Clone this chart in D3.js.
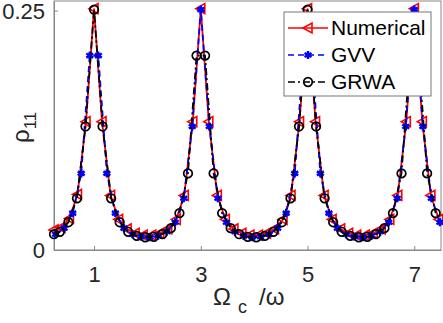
<!doctype html>
<html lang="en">
<head>
  <meta charset="utf-8">
  <title>rho11 vs Omega_c / omega</title>
  <style type="text/css">
    body{
      margin:0;
      background:#fff;
    }
    text{
      font-family: "Liberation Sans", Arial, Helvetica, sans-serif;
      fill:#262626;
    }
    .tick text{
      font-size:22px;
    }
    .domain{
      stroke:#888;
    }
    .tick line{
      stroke:#888;
    }
  </style>
</head>
<body>
  <div id="vis"></div>
  <script src="https://cdn.jsdelivr.net/npm/d3@7"></script>
  <script type="text/javascript">

    var width = 443,
      height = 323;

    // values
    var xTicks = [1, 3, 5, 7],
      yTicks = [0, 0.25],
      yTickLabels = ['0', '0.25'];

    var numX = [0.25,0.38,0.54,0.69,0.85,1.00,1.15,1.31,1.46,1.62,1.77,1.92,2.08,2.23,2.38,2.54,2.69,2.85,3.00,3.15,3.31,3.46,3.62,3.77,3.92,4.08,4.23,4.38,4.54,4.69,4.85,5.00,5.15,5.31,5.46,5.62,5.77,5.92,6.08,6.23,6.38,6.54,6.69,6.85,7.00,7.15,7.31,7.46];
    var numY = [0.021,0.0235,0.033,0.058,0.134,0.252,0.134,0.057,0.032,0.022,0.0175,0.0155,0.0155,0.0175,0.022,0.032,0.057,0.134,0.252,0.134,0.057,0.032,0.022,0.0175,0.0155,0.0155,0.0175,0.022,0.032,0.057,0.134,0.252,0.134,0.057,0.032,0.022,0.0175,0.0155,0.0155,0.0175,0.022,0.032,0.057,0.134,0.252,0.134,0.057,0.032];

    var gvvX = [0.28,0.44,0.60,0.76,0.92,1.08,1.24,1.40,1.56,1.72,1.88,2.04,2.20,2.36,2.52,2.68,2.84,3.00,3.16,3.32,3.48,3.64,3.80,3.96,4.12,4.28,4.44,4.60,4.76,4.92,5.08,5.24,5.40,5.56,5.72,5.88,6.04,6.20,6.36,6.52,6.68,6.84,7.00,7.16,7.32,7.48];
    var gvvY = [0.0165,0.0228,0.0385,0.080,0.203,0.203,0.080,0.0385,0.0228,0.0165,0.0138,0.0133,0.0148,0.019,0.029,0.054,0.129,0.251,0.129,0.054,0.029,0.019,0.0148,0.0133,0.0138,0.0165,0.0228,0.0385,0.080,0.203,0.203,0.080,0.0385,0.0228,0.0165,0.0138,0.0133,0.0148,0.019,0.029,0.054,0.129,0.251,0.129,0.054,0.029];

    var grwaX = [0.25,0.36,0.52,0.68,0.84,1.00,1.16,1.32,1.48,1.64,1.80,1.96,2.12,2.28,2.44,2.60,2.76,2.92,3.08,3.24,3.40,3.56,3.72,3.88,4.04,4.20,4.36,4.52,4.68,4.84,5.00,5.16,5.32,5.48,5.64,5.80,5.96,6.12,6.28,6.44,6.60,6.76,6.92,7.08,7.24,7.40];
    var grwaY = [0.0165,0.019,0.029,0.054,0.129,0.251,0.129,0.054,0.029,0.019,0.0148,0.0133,0.0138,0.0165,0.0228,0.0385,0.080,0.203,0.203,0.080,0.0385,0.0228,0.0165,0.0138,0.0133,0.0148,0.019,0.029,0.054,0.129,0.251,0.129,0.054,0.029,0.019,0.0148,0.0133,0.0138,0.0165,0.0228,0.0385,0.080,0.203,0.203,0.080,0.0385];

    var series = [
      {name:'Numerical', xs:numX, ys:numY, color:'#ff0000', dash:null, marker:'tri'},
      {name:'GVV', xs:gvvX, ys:gvvY, color:'#0000ff', dash:'6,4', marker:'star'},
      {name:'GRWA', xs:grwaX, ys:grwaY, color:'#000000', dash:'7,3,2,3', marker:'circle'}
    ];

    var padL = 54, padR = 441, padT = 1, padB = 250;

    var x = d3.scaleLinear().domain([0.25, 7.5]).range([padL, padR]);
    var y = d3.scaleLinear().domain([0, 0.26]).range([padB, padT]);

    var svg = d3.select('#vis').append('svg')
      .attr('width', width)
      .attr('height', height);

    svg.append('defs').append('clipPath')
        .attr('id', 'plotclip')
      .append('rect')
        .attr('x', padL).attr('y', padT)
        .attr('width', padR - padL).attr('height', padB - padT);

    // box
    svg.append('rect')
      .attr('x', padL).attr('y', padT)
      .attr('width', padR - padL).attr('height', padB - padT)
      .style('fill', '#fff')
      .style('stroke', '#888')
      .style('stroke-width', 1);

    var xAxis = svg.append('g')
      .attr('transform', 'translate(0,' + padB + ')')
      .call(d3.axisBottom(x).tickValues(xTicks).tickSizeInner(-4).tickSizeOuter(0).tickPadding(12));

    var yAxis = svg.append('g')
      .attr('transform', 'translate(' + padL + ',0)')
      .call(d3.axisLeft(y).tickValues(yTicks).tickSizeInner(-4).tickSizeOuter(0).tickPadding(9)
        .tickFormat(function(d, i){ return yTickLabels[i]; }));

    xAxis.selectAll('.tick text').attr('dy', '0.9em');
    yAxis.selectAll('.tick text').attr('dy', '0.36em');

    var line = d3.line()
      .x(function(d){ return x(d[0]); })
      .y(function(d){ return y(d[1]); });

    var triPath = 'M-5,0L4,-5L4,5Z';

    function drawMarker(g, type, color){
      if(type == 'tri'){
        g.append('path').attr('d', triPath)
          .style('fill', 'none').style('stroke', color).style('stroke-width', 1.6);
      }else if(type == 'star'){
        g.append('path').attr('d', d3.symbol().type(d3.symbolAsterisk).size(45)())
          .style('fill', 'none').style('stroke', color).style('stroke-width', 2.4);
        g.append('circle').attr('r', 2.5).style('fill', color);
      }else{
        g.append('circle').attr('r', 4.3)
          .style('fill', 'none').style('stroke', color).style('stroke-width', 1.7);
      }
    }

    var plot = svg.append('g');

    series.forEach(function(s){
      var pts = s.xs.map(function(v, i){ return [v, s.ys[i]]; });
      plot.append('path')
        .datum(pts)
        .attr('clip-path', 'url(#plotclip)')
        .attr('d', line)
        .style('fill', 'none')
        .style('stroke', s.color)
        .style('stroke-width', 1.8)
        .style('stroke-dasharray', s.dash);
      pts.forEach(function(p){
        var g = plot.append('g')
          .attr('transform', 'translate(' + x(p[0]) + ',' + y(p[1]) + ')');
        drawMarker(g, s.marker, s.color);
      });
    });

    // legend
    var legend = svg.append('g');
    legend.append('rect')
      .attr('x', 284).attr('y', 12)
      .attr('width', 147).attr('height', 84)
      .style('fill', '#fff')
      .style('stroke', '#777')
      .style('stroke-width', 1);

    series.forEach(function(s, i){
      var ry = 28 + i * 27;
      legend.append('line')
        .attr('x1', 288).attr('x2', 328)
        .attr('y1', ry).attr('y2', ry)
        .style('stroke', s.color)
        .style('stroke-width', 1.6)
        .style('stroke-dasharray', s.dash);
      var g = legend.append('g').attr('transform', 'translate(308,' + ry + ')');
      drawMarker(g, s.marker, s.color);
      legend.append('text')
        .attr('x', 331).attr('y', ry + 7)
        .style('font-size', '21px')
        .style('fill', '#000')
        .text(s.name);
    });

    // axis labels
    var xl = svg.append('text')
      .attr('y', 305)
      .style('font-size', '24px');
    xl.append('tspan').attr('x', 213).text('\u03A9');
    xl.append('tspan').attr('x', 238).attr('dy', 8).style('font-size', '18px').text('c');
    xl.append('tspan').attr('x', 259).attr('dy', -8).text('/\u03C9');

    var yl = svg.append('text')
      .attr('transform', 'translate(29,143) rotate(-90)')
      .style('font-size', '24px');
    yl.append('tspan').text('\u03C1');
    yl.append('tspan').attr('dy', 7).style('font-size', '17px').text('11');

  </script>
</body>
</html>
